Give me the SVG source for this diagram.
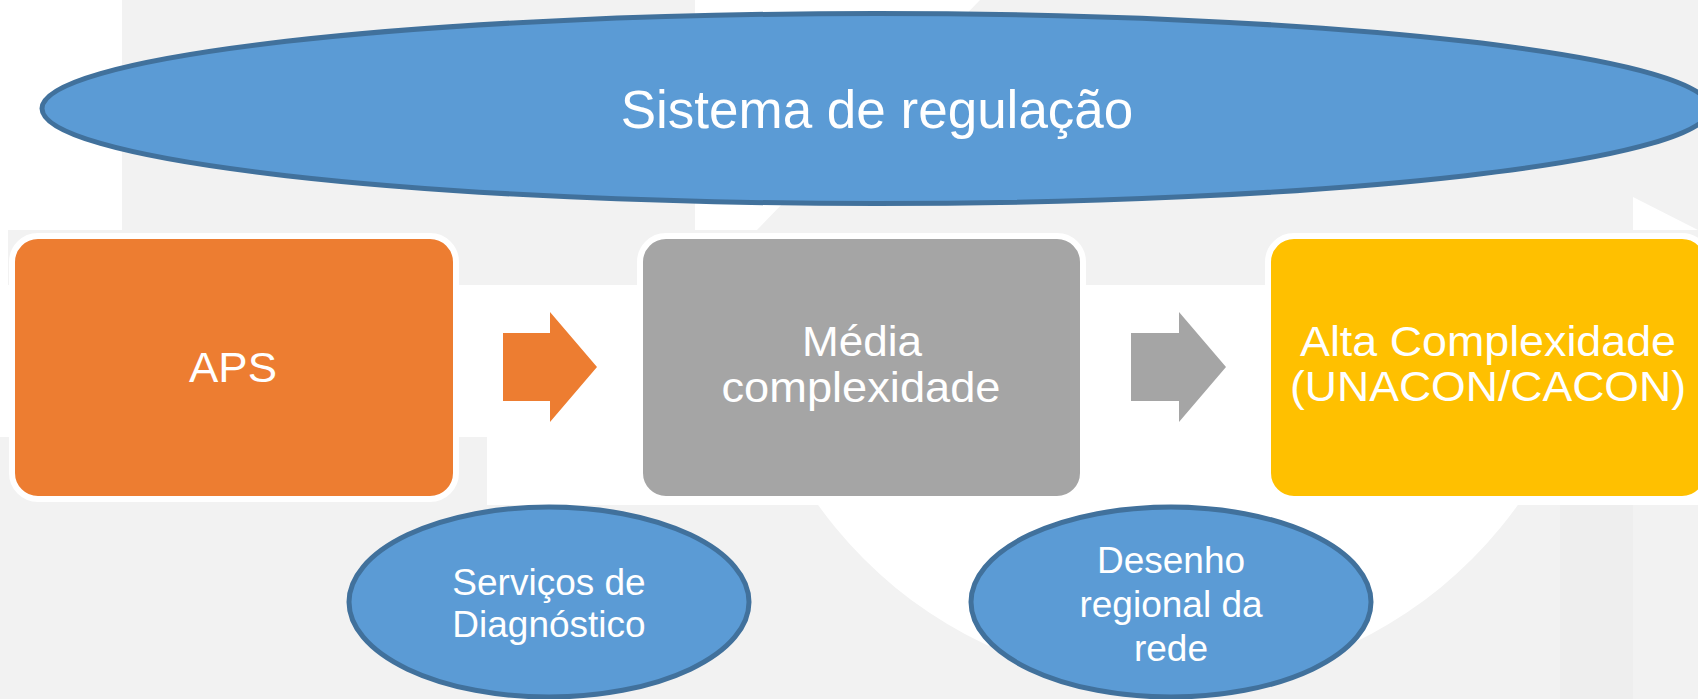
<svg xmlns="http://www.w3.org/2000/svg" width="1698" height="699" viewBox="0 0 1698 699">
<style>
.bg{fill:#F2F2F2}
.oval{fill:#5B9BD5;stroke:#41719C;stroke-width:5}
.box{stroke:#FFFFFF;stroke-width:6}
.t{font-family:"Liberation Sans",Arial,sans-serif;fill:#FFFFFF;text-anchor:middle}
.big{font-size:53px}
.mid{font-size:42px}
.small{font-size:37px}
</style>
<defs>
<clipPath id="outsideCircle">
<path d="M0,0H1698V699H0Z M738,255 a430,430 0 1,0 860,0 a430,430 0 1,0 -860,0Z" clip-rule="evenodd"/>
</clipPath>
</defs>
<rect width="1698" height="699" fill="#FFFFFF"/>
<g id="background">
<rect class="bg" x="122" y="0" width="573" height="230"/>
<polygon class="bg" points="980,0 1698,0 1698,230 1633,197 1633,230 757,230"/>
<rect class="bg" x="8" y="230" width="1690" height="55"/>
<rect class="bg" x="0" y="437" width="487" height="68"/>
<rect class="bg" x="0" y="505" width="695" height="194"/>
<g clip-path="url(#outsideCircle)">
<rect class="bg" x="695" y="505" width="1003" height="194"/>
<rect x="1560" y="505" width="73" height="194" fill="#EEEEEE"/>
</g>
</g>
<g id="connectors">
<polygon fill="#ED7D31" points="503,333 550,333 550,312 597,367 550,422 550,401 503,401"/>
<polygon fill="#A5A5A5" points="1131,333 1179,333 1179,312 1226,367 1179,422 1179,401 1131,401"/>
</g>
<g id="regulacao">
<ellipse class="oval" cx="876" cy="108.5" rx="834" ry="95"/>
<text class="t big" x="877" y="128">Sistema de regulação</text>
</g>
<g id="aps">
<rect class="box" x="12" y="236" width="444" height="263" rx="26" fill="#ED7D31"/>
<text class="t mid" x="233" y="382" textLength="88" lengthAdjust="spacingAndGlyphs">APS</text>
</g>
<g id="media">
<rect class="box" x="640" y="236" width="443" height="263" rx="26" fill="#A5A5A5"/>
<text class="t mid" x="862" y="356" textLength="120" lengthAdjust="spacingAndGlyphs">Média</text>
<text class="t mid" x="861" y="402" textLength="279" lengthAdjust="spacingAndGlyphs">complexidade</text>
</g>
<g id="alta">
<rect class="box" x="1268" y="236" width="440" height="263" rx="26" fill="#FFC000"/>
<text class="t mid" x="1488" y="356" textLength="376" lengthAdjust="spacingAndGlyphs">Alta Complexidade</text>
<text class="t mid" x="1488" y="401" textLength="396" lengthAdjust="spacingAndGlyphs">(UNACON/CACON)</text>
</g>
<g id="servicos">
<ellipse class="oval" cx="549" cy="602" rx="200" ry="95"/>
<text class="t small" x="549" y="595">Serviços de</text>
<text class="t small" x="549" y="637">Diagnóstico</text>
</g>
<g id="desenho">
<ellipse class="oval" cx="1171" cy="602" rx="200" ry="95"/>
<text class="t small" x="1171" y="573">Desenho</text>
<text class="t small" x="1171" y="617">regional da</text>
<text class="t small" x="1171" y="661">rede</text>
</g>
</svg>
